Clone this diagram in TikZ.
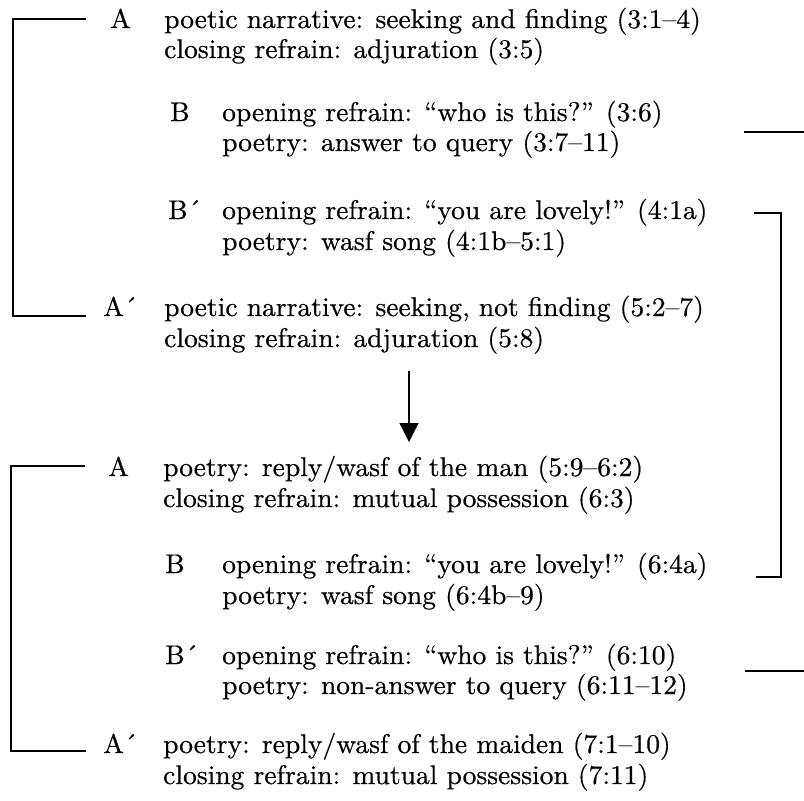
\documentclass[tikz,border=0pt]{standalone}
\usepackage{fontspec}
\setmainfont{lmroman10-regular}[Extension=.otf,FakeStretch=1.02,FakeBold=0.5]
\usetikzlibrary{arrows.meta}
\begin{document}
\begin{tikzpicture}[x=1pt,y=-1pt,
  txt/.style={anchor=base west,inner sep=0pt,font=\fontsize{27}{31}\selectfont},
  brk/.style={line width=1.3pt},
  flow/.style={line width=1.3pt,-{Triangle[length=19pt,width=19pt]}}]
\useasboundingbox (0,0) rectangle (804,801);
% top group
\node[txt] (la1) at (110,28) {A};
\node[txt] (ta1) at (164,28) {poetic narrative: seeking and finding (3:1–4)};
\node[txt] (ta2) at (164,58) {closing refrain: adjuration (3:5)};
\node[txt] (lb1) at (170,121) {B};
\node[txt] (tb1) at (222,121) {opening refrain: “who is this?” (3:6)};
\node[txt] (tb2) at (222,151) {poetry: answer to query (3:7–11)};
\node[txt] (lc1) at (168,219) {B´};
\node[txt] (tc1) at (222,219) {opening refrain: “you are lovely!” (4:1a)};
\node[txt] (tc2) at (222,250) {poetry: wasf song (4:1b–5:1)};
\node[txt] (ld1) at (103,316) {A´};
\node[txt] (td1) at (164,316) {poetic narrative: seeking, not finding (5:2–7)};
\node[txt] (td2) at (164,347) {closing refrain: adjuration (5:8)};
% bottom group
\node[txt] (le1) at (108,476) {A};
\node[txt] (te1) at (163,476) {poetry: reply/wasf of the man (5:9–6:2)};
\node[txt] (te2) at (163,507) {closing refrain: mutual possession (6:3)};
\node[txt] (lf1) at (165,573) {B};
\node[txt] (tf1) at (222,573) {opening refrain: “you are lovely!” (6:4a)};
\node[txt] (tf2) at (222,604) {poetry: wasf song (6:4b–9)};
\node[txt] (lg1) at (165,664) {B´};
\node[txt] (tg1) at (222,664) {opening refrain: “who is this?” (6:10)};
\node[txt] (tg2) at (222,694) {poetry: non-answer to query (6:11–12)};
\node[txt] (lh1) at (103,753) {A´};
\node[txt] (th1) at (163,753) {poetry: reply/wasf of the maiden (7:1–10)};
\node[txt] (th2) at (163,784) {closing refrain: mutual possession (7:11)};
% bracket coordinates
\coordinate (b1s) at (86,19);  \coordinate (b1e) at (86,316);
\coordinate (b2s) at (85,466); \coordinate (b2e) at (86,751);
\coordinate (b3s) at (754,213); \coordinate (b3e) at (756,577);
\coordinate (s1a) at (744,132); \coordinate (s1b) at (804,132);
\coordinate (s2a) at (745,671); \coordinate (s2b) at (804,671);
\coordinate (ar1) at (409,371); \coordinate (ar2) at (409,442);
\draw[brk] (b1s) -- (13,19) -- (13,316) -- (b1e);
\draw[brk] (b2s) -- (11,466) -- (11,751) -- (b2e);
\draw[brk] (b3s) -- (781,213) -- (781,577) -- (b3e);
\draw[brk] (s1a) -- (s1b);
\draw[brk] (s2a) -- (s2b);
\draw[flow] (ar1) -- (ar2);
\end{tikzpicture}
\end{document}
